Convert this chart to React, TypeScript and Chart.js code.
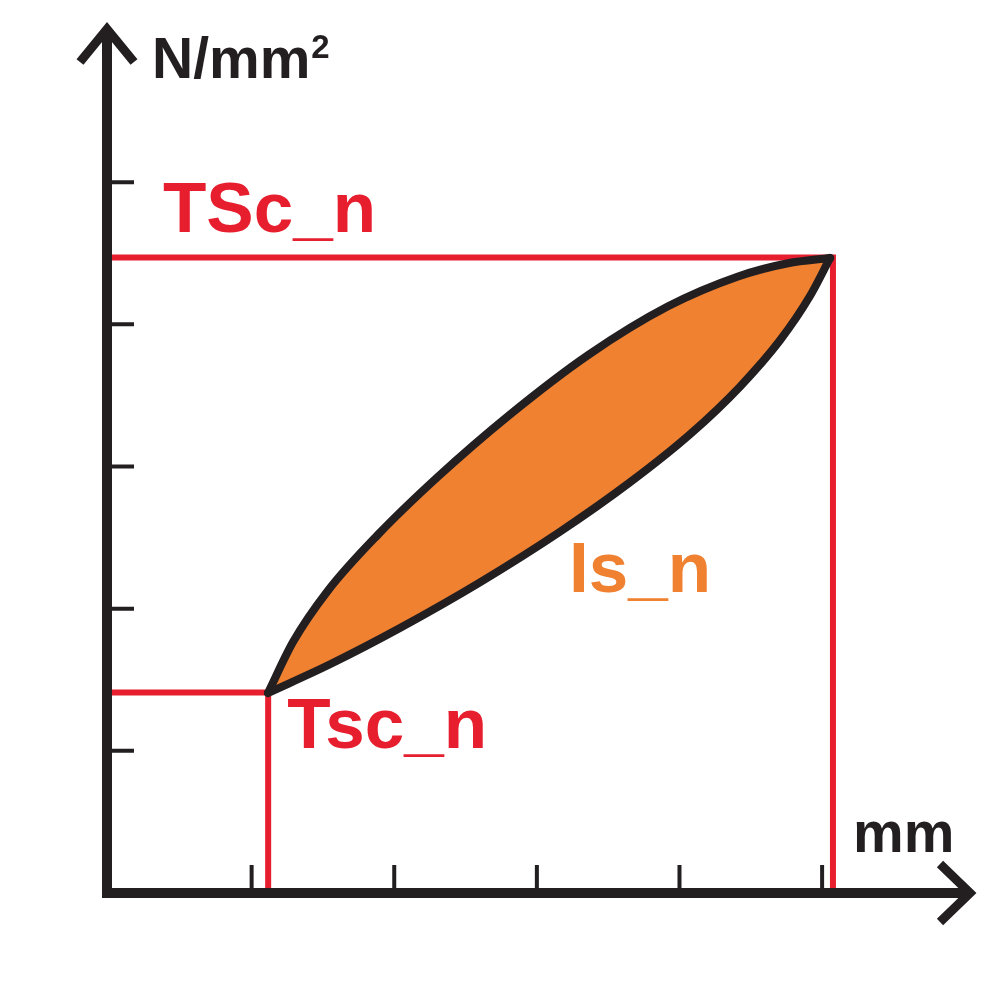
import React, { useEffect, useRef } from "react";
import { Chart, registerables } from "chart.js";

Chart.register(...registerables);

// ---- data ----
const X_TICKS = [1, 2, 3, 4, 5];
const Y_TICKS = [1, 2, 3, 4, 5];
const TSC_UPPER_LEVEL = 4.47; // TSc_n
const TSC_UPPER_X = 5.09;
const TSC_LOWER_LEVEL = 1.41; // Tsc_n
const TSC_LOWER_X = 1.13;
const UPPER_X = [1.129, 1.304, 1.55, 1.9, 2.321, 2.812, 3.373, 3.934, 4.425, 4.775, 5.07];
const UPPER_Y = [1.407, 1.765, 2.128, 2.521, 2.929, 3.355, 3.784, 4.127, 4.337, 4.43, 4.467];
const LOWER_X = [1.129, 1.564, 2.054, 2.615, 3.176, 3.667, 4.088, 4.438, 4.719, 4.929, 5.07];
const LOWER_Y = [1.407, 1.609, 1.864, 2.185, 2.541, 2.889, 3.227, 3.562, 3.888, 4.199, 4.467];
const Y_UNIT = "N/mm";
const Y_UNIT_SUP = "2";
const X_UNIT = "mm";
const LABEL_UPPER = "TSc_n";
const LABEL_LOWER = "Tsc_n";
const LABEL_AREA = "Is_n";

const BLACK = "#231f20";
const RED = "#e61e2e";
const ORANGE = "#f08131";
const FONT = '"Liberation Sans", Arial, sans-serif';

const zip = (xs: number[], ys: number[]) => xs.map((x, i) => ({ x, y: ys[i] }));

const axesPlugin = {
  id: "customAxes",
  afterDatasetsDraw(chart: any) {
    const { ctx, scales, chartArea } = chart;
    const xs = scales.x;
    const ys = scales.y;
    const x0 = xs.getPixelForValue(0);
    const y0 = ys.getPixelForValue(0);
    ctx.save();
    ctx.strokeStyle = BLACK;
    ctx.fillStyle = BLACK;
    // ticks
    ctx.lineWidth = 4;
    ctx.lineCap = "butt";
    ctx.beginPath();
    X_TICKS.forEach((t) => {
      const px = xs.getPixelForValue(t) + 2;
      ctx.moveTo(px, y0);
      ctx.lineTo(px, y0 - 28);
    });
    Y_TICKS.forEach((t) => {
      const py = ys.getPixelForValue(t);
      ctx.moveTo(x0, py);
      ctx.lineTo(x0 + 27, py);
    });
    ctx.stroke();
    // axis lines
    ctx.lineWidth = 10;
    ctx.beginPath();
    ctx.moveTo(x0, y0 + 5);
    ctx.lineTo(x0, chartArea.top + 10);
    ctx.moveTo(x0 - 5, y0);
    ctx.lineTo(chartArea.right - 10, y0);
    ctx.stroke();
    // arrow heads
    ctx.lineWidth = 9;
    ctx.lineJoin = "miter";
    ctx.beginPath();
    ctx.moveTo(x0 - 27, chartArea.top + 39);
    ctx.lineTo(x0, chartArea.top + 6);
    ctx.lineTo(x0 + 27, chartArea.top + 39);
    ctx.moveTo(chartArea.right - 37, y0 - 29);
    ctx.lineTo(chartArea.right - 7, y0);
    ctx.lineTo(chartArea.right - 37, y0 + 29);
    ctx.stroke();
    // unit labels
    ctx.textAlign = "left";
    ctx.textBaseline = "alphabetic";
    ctx.font = `bold 57px ${FONT}`;
    const ux = x0 + 45;
    const uy = chartArea.top + 55;
    ctx.fillText(Y_UNIT, ux, uy);
    const w = ctx.measureText(Y_UNIT).width;
    ctx.font = `bold 33px ${FONT}`;
    ctx.fillText(Y_UNIT_SUP, ux + w + 1, uy - 20);
    ctx.font = `bold 57px ${FONT}`;
    ctx.fillText(X_UNIT, chartArea.right - 124, y0 - 41);
    // red labels
    ctx.font = `bold 71px ${FONT}`;
    ctx.fillStyle = RED;
    ctx.fillText(LABEL_UPPER, x0 + 56, ys.getPixelForValue(TSC_UPPER_LEVEL) - 26);
    ctx.fillText(LABEL_LOWER, xs.getPixelForValue(TSC_LOWER_X) + 19, ys.getPixelForValue(TSC_LOWER_LEVEL) + 55);
    ctx.fillStyle = ORANGE;
    ctx.fillText(LABEL_AREA, x0 + 462, y0 - 301);
    ctx.restore();
  },
};

export default function App() {
  const ref = useRef<HTMLCanvasElement | null>(null);
  useEffect(() => {
    if (!ref.current) return;
    const lens = {
      showLine: true,
      borderColor: BLACK,
      borderWidth: 8,
      cubicInterpolationMode: "monotone",
      borderCapStyle: "round",
      borderJoinStyle: "round",
      pointRadius: 0,
    };
    const chart = new Chart(ref.current, {
      type: "scatter",
      data: {
        datasets: [
          {
            ...lens,
            data: zip(UPPER_X, UPPER_Y),
            backgroundColor: ORANGE,
            fill: "+1",
            order: 1,
          } as any,
          {
            ...lens,
            data: zip(LOWER_X, LOWER_Y),
            fill: false,
            order: 0,
          } as any,
          {
            data: [
              { x: 0, y: TSC_UPPER_LEVEL },
              { x: TSC_UPPER_X, y: TSC_UPPER_LEVEL },
              { x: TSC_UPPER_X, y: 0 },
            ],
            showLine: true,
            borderColor: RED,
            borderWidth: 6,
            tension: 0,
            fill: false,
            pointRadius: 0,
            borderJoinStyle: "miter",
            order: 2,
          } as any,
          {
            data: [
              { x: 0, y: TSC_LOWER_LEVEL },
              { x: TSC_LOWER_X, y: TSC_LOWER_LEVEL },
              { x: TSC_LOWER_X, y: 0 },
            ],
            showLine: true,
            borderColor: RED,
            borderWidth: 6,
            tension: 0,
            fill: false,
            pointRadius: 0,
            borderJoinStyle: "miter",
            order: 2,
          } as any,
        ],
      },
      options: {
        animation: false,
        responsive: false,
        layout: { padding: { left: 107, right: 19, top: 23, bottom: 107 } },
        scales: {
          x: { type: "linear", min: 0, max: 6.1, display: false },
          y: { type: "linear", min: 0, max: 6.12, display: false },
        },
        plugins: {
          legend: { display: false },
          tooltip: { enabled: false },
        },
        events: [],
      },
      plugins: [axesPlugin],
    });
    return () => chart.destroy();
  }, []);
  return (
    <div style={{ position: "absolute", left: 0, top: 0, width: 996, height: 1000, background: "#fff" }}>
      <canvas ref={ref} width={996} height={1000} style={{ display: "block" }} />
    </div>
  );
}
